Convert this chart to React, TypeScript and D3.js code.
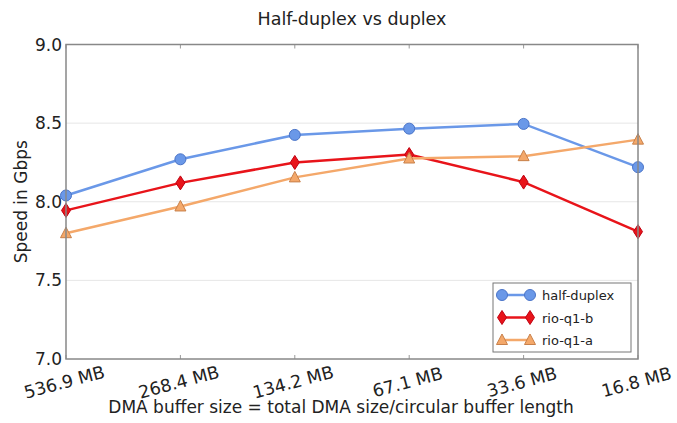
import React from "react";
import * as d3 from "d3";

const bufferSizes = ["536.9 MB", "268.4 MB", "134.2 MB", "67.1 MB", "33.6 MB", "16.8 MB"];
const halfDuplex = [8.04, 8.27, 8.425, 8.465, 8.495, 8.22];
const rioQ1b = [7.945, 8.12, 8.25, 8.30, 8.125, 7.81];
const rioQ1a = [7.80, 7.97, 8.155, 8.275, 8.29, 8.395];
const yTicks = [7.0, 7.5, 8.0, 8.5, 9.0];

const series = [
  { name: "half-duplex", values: halfDuplex, color: "#6a98e8", edge: "#4a74c8", marker: "circle" },
  { name: "rio-q1-b", values: rioQ1b, color: "#e8141a", edge: "#c00010", marker: "diamond" },
  { name: "rio-q1-a", values: rioQ1a, color: "#f4a86a", edge: "#c8804a", marker: "triangle" },
];

const W = 677;
const H = 423;
const margin = { top: 44.5, right: 39, bottom: 64, left: 66 };
const font = "DejaVu Sans, sans-serif";

function Marker({ kind, x, y, fill, edge }: { kind: string; x: number; y: number; fill: string; edge: string }) {
  if (kind === "circle") return <circle cx={x} cy={y} r={5.5} fill={fill} stroke={edge} strokeWidth={1} />;
  if (kind === "diamond")
    return <path d={`M${x},${y - 7}L${x + 4.5},${y}L${x},${y + 7}L${x - 4.5},${y}Z`} fill={fill} stroke={edge} strokeWidth={1} />;
  return <path d={`M${x},${y - 6}L${x + 5.5},${y + 4.5}L${x - 5.5},${y + 4.5}Z`} fill={fill} stroke={edge} strokeWidth={1} />;
}

export default function App() {
  const x = d3.scalePoint<string>().domain(bufferSizes).range([margin.left, W - margin.right]);
  const y = d3.scaleLinear().domain([7, 9]).range([H - margin.bottom, margin.top]);
  const line = d3.line<number>().x((_, i) => x(bufferSizes[i])!).y((d) => y(d));
  const x0 = margin.left, x1 = W - margin.right, y0 = H - margin.bottom, y1 = margin.top;

  return (
    <svg width={W} height={H} style={{ position: "absolute", left: 0, top: 0 }} fontFamily={font}>
      <rect width={W} height={H} fill="#fff" />
      <text x={(x0 + x1) / 2} y={25} textAnchor="middle" fontSize={17.5} fill="#222">
        Half-duplex vs duplex
      </text>
      {yTicks.slice(1, -1).map((t) => (
        <line key={t} x1={x0} x2={x1} y1={y(t)} y2={y(t)} stroke="#e6e6e6" strokeWidth={1} />
      ))}
      {bufferSizes.map((b) => (
        <g key={b}>
          <line x1={x(b)} x2={x(b)} y1={y0} y2={y0 - 4} stroke="#999" />
          <line x1={x(b)} x2={x(b)} y1={y1} y2={y1 + 4} stroke="#999" />
          <text
            transform={`translate(${x(b)},${y0 + 29}) rotate(-15)`}
            textAnchor="middle"
            fontSize={17.5}
            fill="#222"
          >
            {b}
          </text>
        </g>
      ))}
      {yTicks.map((t) => (
        <text key={t} x={x0 - 4} y={y(t) + 6} textAnchor="end" fontSize={17} fill="#222">
          {t.toFixed(1)}
        </text>
      ))}
      {series.map((s) => (
        <g key={s.name}>
          <path d={line(s.values) ?? ""} fill="none" stroke={s.color} strokeWidth={2.5} />
          {s.values.map((v, i) => (
            <Marker key={i} kind={s.marker} x={x(bufferSizes[i])!} y={y(v)} fill={s.color} edge={s.edge} />
          ))}
        </g>
      ))}
      <rect x={x0} y={y1} width={x1 - x0} height={y0 - y1} fill="none" stroke="#888" strokeWidth={1.5} />
      <text transform={`translate(27,${(y0 + y1) / 2}) rotate(-90)`} textAnchor="middle" fontSize={17} fill="#222">
        Speed in Gbps
      </text>
      <text x={341} y={413} textAnchor="middle" fontSize={17} fill="#222">
        DMA buffer size = total DMA size/circular buffer length
      </text>
      <g transform="translate(493,283)">
        <rect width={138} height={69} fill="#fff" stroke="#777" strokeWidth={1} />
        {series.map((s, i) => (
          <g key={s.name} transform={`translate(0,${12 + i * 22.5})`}>
            <line x1={9} x2={37} y1={0} y2={0} stroke={s.color} strokeWidth={2.5} />
            <Marker kind={s.marker} x={9} y={0} fill={s.color} edge={s.edge} />
            <Marker kind={s.marker} x={37} y={0} fill={s.color} edge={s.edge} />
            <text x={49} y={5} fontSize={13} fill="#222">
              {s.name}
            </text>
          </g>
        ))}
      </g>
    </svg>
  );
}
